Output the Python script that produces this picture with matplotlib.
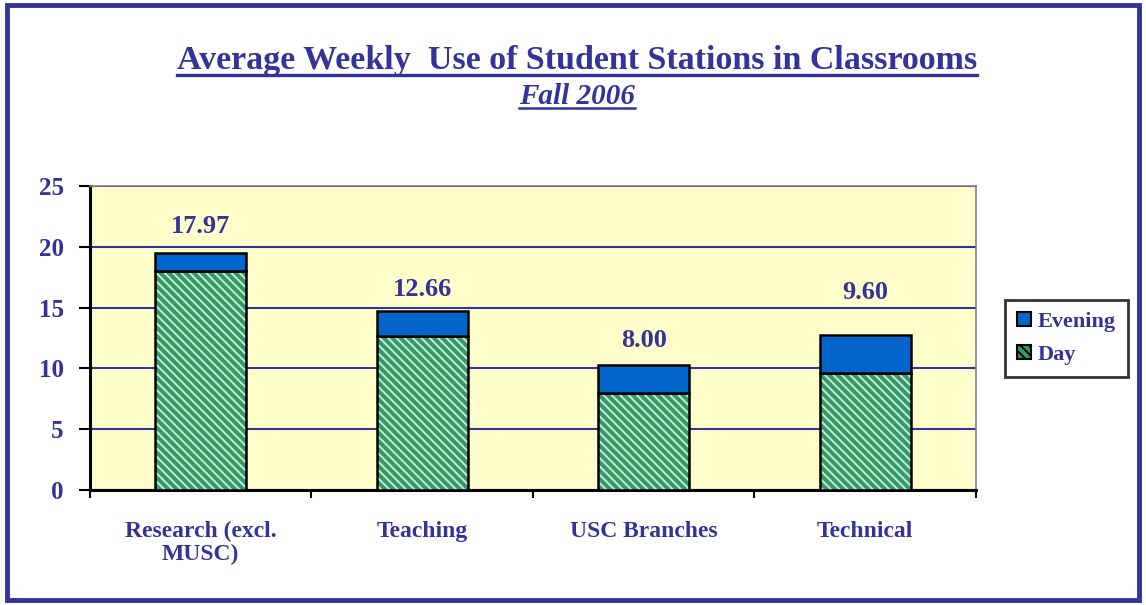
import matplotlib.pyplot as plt
from matplotlib.patches import Rectangle, Patch
import numpy as np

categories = ["Research (excl.\nMUSC)", "Teaching", "USC Branches", "Technical"]
day = [17.97, 12.66, 8.00, 9.60]
evening = [1.52, 2.06, 2.28, 3.15]
day_labels = ["17.97", "12.66", "8.00", "9.60"]
y_ticks = [0, 5, 10, 15, 20, 25]

navy = "#333399"
green = "#339966"
blue = "#0066CC"

plt.rcParams['font.family'] = ['Liberation Serif', 'DejaVu Serif']
plt.rcParams['font.weight'] = 'bold'
plt.rcParams['hatch.linewidth'] = 1.4
plt.rcParams['hatch.color'] = '#c8ead8'

fig = plt.figure(figsize=(11.46, 6.05), dpi=100)
ax = fig.add_axes([0.0785, 0.1901, 0.7731, 0.5025])
ax.set_facecolor("#FFFFCC")

x = np.arange(len(categories))
w = 0.41
# day bars: hatch first, then black outline on top
ax.bar(x, day, w, color=green, hatch='\\\\\\\\', edgecolor='#c8ead8', linewidth=0, zorder=3)
ax.bar(x, day, w, fill=False, edgecolor='black', linewidth=1.8, zorder=4)
ax.bar(x, evening, w, bottom=day, color=blue, edgecolor='black', linewidth=1.8, zorder=4)

totals = np.array(day) + np.array(evening)
offsets = [2.2, 1.8, 2.0, 3.5]
for xi, t, off, lab in zip(x, totals, offsets, day_labels):
    ax.text(xi, t + off, lab, ha='center', va='center', fontsize=19,
            color=navy, fontweight='bold')

ax.set_xlim(-0.5, len(categories) - 0.5)
ax.set_ylim(0, 25)
ax.set_yticks(y_ticks)
ax.set_yticklabels([str(v) for v in y_ticks], fontsize=18, color=navy, fontweight='bold')
ax.yaxis.grid(True, color=navy, linewidth=1.5, zorder=1)
ax.set_axisbelow(True)

ax.set_xticks(x)
ax.set_xticklabels(categories, fontsize=17, color=navy, fontweight='bold', linespacing=1.15)
ax.tick_params(axis='x', which='major', length=0, pad=22)
ax.set_xticks(np.arange(len(categories) + 1) - 0.5, minor=True)
ax.tick_params(axis='x', which='minor', length=6, width=1.5, direction='out')
ax.tick_params(axis='y', length=8, width=1.5, direction='out', pad=11)

for s in ['left', 'bottom']:
    ax.spines[s].set_linewidth(2.2)
    ax.spines[s].set_color('black')
for s in ['top', 'right']:
    ax.spines[s].set_linewidth(1.2)
    ax.spines[s].set_color('#808080')

handles = [Patch(facecolor=blue, edgecolor='black', linewidth=1.5, label='Evening'),
           Patch(facecolor=green, edgecolor='black', linewidth=1.5, hatch='\\\\\\\\', label='Day')]
leg = fig.legend(handles=handles, loc='center', bbox_to_anchor=(0.9306, 0.4405),
                 frameon=True, fancybox=False, fontsize=16, handlelength=0.6,
                 handleheight=0.6, handletextpad=0.3, borderpad=0.55, labelspacing=0.6,
                 borderaxespad=0)
leg.get_frame().set_edgecolor('black')
leg.get_frame().set_linewidth(2)
for t in leg.get_texts():
    t.set_color(navy)

title = fig.text(0.5035, 0.9, "Average Weekly  Use of Student Stations in Classrooms",
                 ha='center', va='center', fontsize=24.5, color=navy, fontweight='bold')
sub = fig.text(0.5035, 0.841, "Fall 2006", ha='center', va='center', fontsize=21,
               color=navy, fontweight='bold', style='italic')

# underline titles
fig.canvas.draw()
r = fig.canvas.get_renderer()
for t, lw in [(title, 2.4), (sub, 1.8)]:
    bb = t.get_window_extent(r).transformed(fig.transFigure.inverted())
    yline = bb.y0 + 0.002
    fig.add_artist(plt.Line2D([bb.x0, bb.x1], [yline, yline], color=navy,
                              linewidth=lw, transform=fig.transFigure))

fig.add_artist(Rectangle((0.006, 0.008), 0.988, 0.983, transform=fig.transFigure,
                         fill=False, edgecolor=navy, linewidth=3.5))

fig.savefig("out.png", dpi=100, facecolor='white')
